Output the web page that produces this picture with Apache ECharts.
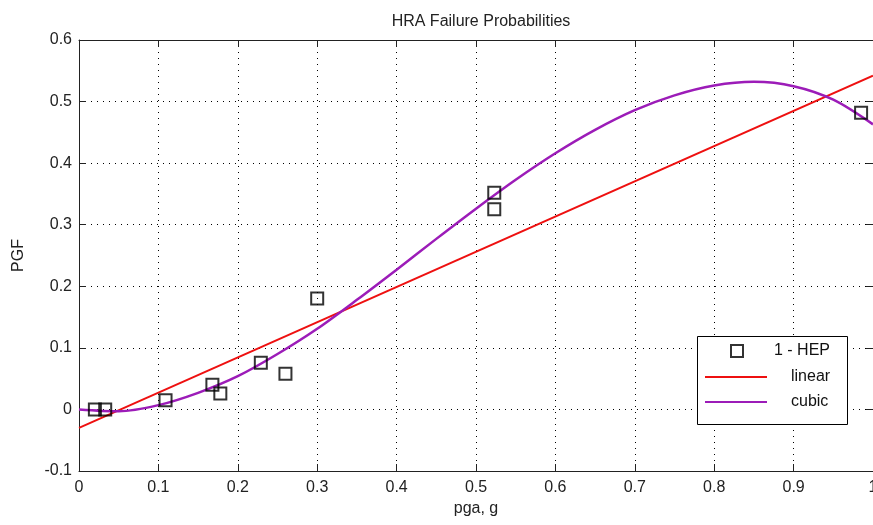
<!DOCTYPE html>
<html>
<head>
<meta charset="utf-8">
<title>HRA Failure Probabilities</title>
<script src="https://cdn.jsdelivr.net/npm/echarts@6/dist/echarts.min.js"></script>
<style>
  html, body { margin: 0; padding: 0; background: #fff; }
  #main { width: 873px; height: 525px; }
</style>
</head>
<body>
<div id="main"></div>
<script>
// 数据点 1 - HEP (pga, PGF)
var hepX = [0.02, 0.033, 0.109, 0.168, 0.178, 0.229, 0.26, 0.3, 0.523, 0.523, 0.985]
var hepY = [0, 0, 0.015, 0.04, 0.026, 0.076, 0.058, 0.18, 0.352, 0.325, 0.482]

// 线性拟合 (两端读数)
var linX = [0, 1]
var linY = [-0.03, 0.542]

// 三次拟合
var cubX = [0, 0.05, 0.1, 0.15, 0.2, 0.25, 0.3, 0.35, 0.4, 0.45, 0.5, 0.55, 0.6, 0.65, 0.7, 0.75, 0.8, 0.85, 0.9, 0.95, 1]
var cubY = [0, -0.003, 0.007, 0.027, 0.054, 0.09, 0.131, 0.178, 0.227, 0.277, 0.326, 0.373, 0.416, 0.454, 0.486, 0.51, 0.526, 0.532, 0.525, 0.503, 0.463]

function pairs(xs, ys) {
  return xs.map(function (x, i) { return [x, ys[i]] })
}

var font = 'Liberation Sans, Arial, sans-serif'
var axisColor = '#222'
var redColor = '#ee1010'
var purpleColor = '#9c1cb8'

var chart = echarts.init(document.getElementById('main'))

chart.setOption({
  backgroundColor: '#fff',
  animation: false,
  title: {
    text: 'HRA Failure Probabilities',
    left: 476,
    textAlign: 'center',
    top: 9,
    textStyle: { fontFamily: font, fontSize: 16, fontWeight: 'normal', color: '#222' }
  },
  grid: { left: 79, top: 40, right: 0, bottom: 54, containLabel: false, outerBoundsMode: 'none' },
  // 图例框
  graphic: [{
    type: 'rect',
    z: 3,
    shape: { x: 697.5, y: 336.5, width: 150, height: 88 },
    style: { fill: '#fff', stroke: '#000', lineWidth: 1 }
  }],
  legend: [
    {
      data: ['1 - HEP'],
      left: 730,
      top: 343,
      padding: 0,
      itemWidth: 12,
      itemHeight: 12,
      textStyle: { fontFamily: font, fontSize: 16, color: '#111', padding: [0, 0, 0, 26] }
    },
    {
      data: [
        { name: 'linear', icon: 'rect', itemStyle: { color: redColor } },
        { name: 'cubic', icon: 'rect', itemStyle: { color: purpleColor } }
      ],
      orient: 'vertical',
      left: 705,
      top: 369,
      padding: 0,
      itemWidth: 62,
      itemHeight: 2,
      itemGap: 9,
      textStyle: { fontFamily: font, fontSize: 16, color: '#111', padding: [0, 0, 0, 19] }
    }
  ],
  xAxis: [
    {
      type: 'value',
      min: 0,
      max: 1,
      interval: 0.1,
      name: 'pga, g',
      nameLocation: 'middle',
      nameGap: 25,
      nameTextStyle: { fontFamily: font, fontSize: 16, color: '#222' },
      axisLine: { onZero: false, lineStyle: { color: axisColor, width: 1 } },
      axisTick: { inside: true, length: 7, lineStyle: { color: axisColor } },
      axisLabel: { margin: 9, fontFamily: font, fontSize: 16, color: '#222' },
      splitLine: { show: true, lineStyle: { color: '#000', width: 1, type: [1, 5] } }
    },
    {
      type: 'value',
      position: 'top',
      min: 0,
      max: 1,
      interval: 0.1,
      axisLine: { onZero: false, lineStyle: { color: axisColor, width: 1 } },
      axisTick: { inside: true, length: 7, lineStyle: { color: axisColor } },
      axisLabel: { show: false },
      splitLine: { show: false }
    }
  ],
  yAxis: [
    {
      type: 'value',
      min: -0.1,
      max: 0.6,
      interval: 0.1,
      name: 'PGF',
      nameLocation: 'middle',
      nameRotate: 90,
      nameGap: 52,
      nameTextStyle: { fontFamily: font, fontSize: 16, color: '#222' },
      axisLine: { show: true, onZero: false, lineStyle: { color: axisColor, width: 1 } },
      axisTick: { show: true, inside: true, length: 7, lineStyle: { color: axisColor } },
      axisLabel: { margin: 7, fontFamily: font, fontSize: 16, color: '#222' },
      splitLine: { show: true, lineStyle: { color: '#000', width: 1, type: [1, 5] } }
    },
    {
      type: 'value',
      position: 'right',
      min: -0.1,
      max: 0.6,
      interval: 0.1,
      axisLine: { show: true, onZero: false, lineStyle: { color: axisColor, width: 1 } },
      axisTick: { show: true, inside: true, length: 7, lineStyle: { color: axisColor } },
      axisLabel: { show: false },
      splitLine: { show: false }
    }
  ],
  series: [
    {
      name: 'linear',
      type: 'line',
      showSymbol: false,
      symbol: 'none',
      data: pairs(linX, linY),
      lineStyle: { color: redColor, width: 2 },
      itemStyle: { color: redColor },
      z: 2
    },
    {
      name: 'cubic',
      type: 'line',
      showSymbol: false,
      symbol: 'none',
      smooth: 0.3,
      data: pairs(cubX, cubY),
      lineStyle: { color: purpleColor, width: 2.5 },
      itemStyle: { color: purpleColor },
      z: 2
    },
    {
      name: '1 - HEP',
      type: 'scatter',
      symbol: 'rect',
      symbolSize: 12,
      data: pairs(hepX, hepY),
      itemStyle: { color: 'rgba(0,0,0,0)', borderColor: '#000', borderWidth: 2 },
      z: 3
    }
  ]
})
</script>
</body>
</html>
